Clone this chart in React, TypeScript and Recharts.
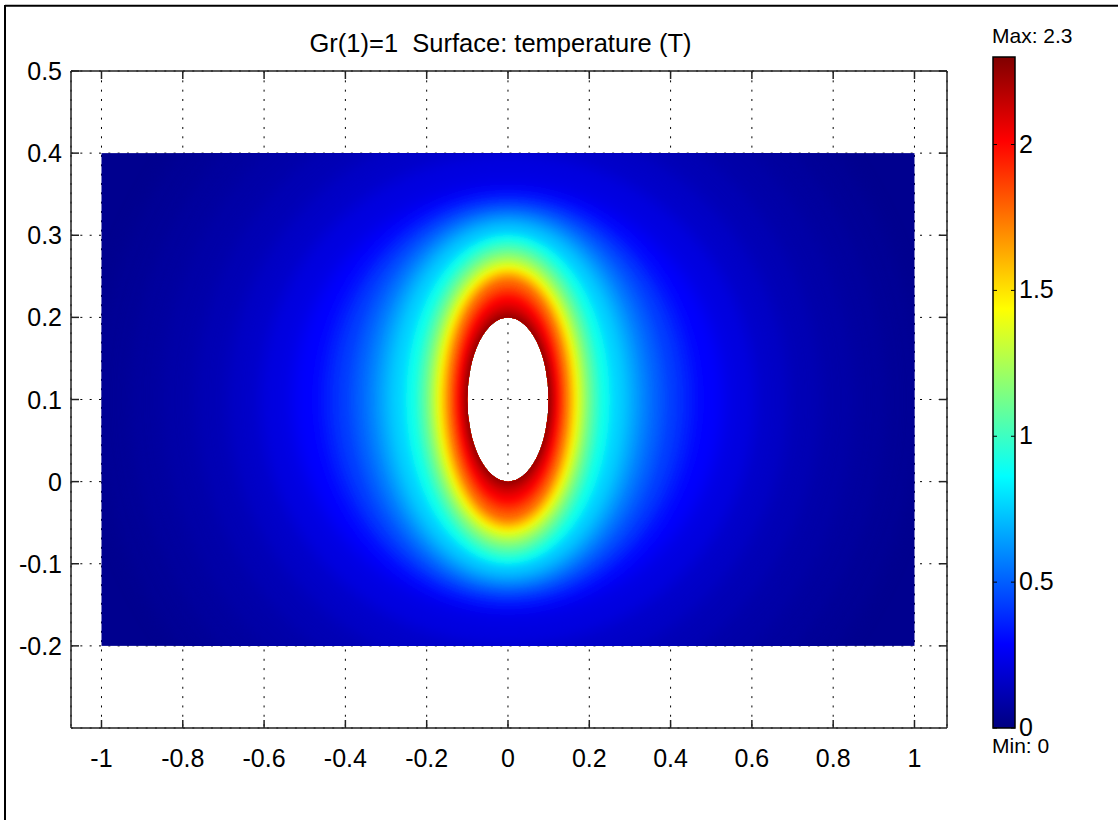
import { ComposedChart, XAxis, YAxis, CartesianGrid, ReferenceArea, Scatter } from "recharts";

// axes of the surface plot
const xTicks = [-1, -0.8, -0.6, -0.4, -0.2, 0, 0.2, 0.4, 0.6, 0.8, 1];
const yTicks = [-0.2, -0.1, 0, 0.1, 0.2, 0.3, 0.4, 0.5];
const xDomain = [-1.075, 1.08];
const yDomain = [-0.3, 0.5];

// geometry of the computed domain
const fieldX = [-1, 1];
const fieldY = [-0.2, 0.4];
const hole = { cx: 0, cy: 0.1, rx: 0.1, ry: 0.1 };

// temperature contours (half width / half height around the hole centre)
const contourT = [2.3, 2.2, 2.1, 2.0, 1.9, 1.8, 1.7, 1.6, 1.5, 1.4, 1.3, 1.2, 1.1, 1.0, 0.9, 0.8, 0.7, 0.6, 0.5, 0.4, 0.3, 0.22, 0.16, 0.12, 0.09, 0.07, 0.05];
const contourRx = [0.1, 0.107, 0.115, 0.124, 0.133, 0.142, 0.15, 0.158, 0.166, 0.174, 0.184, 0.195, 0.208, 0.225, 0.25, 0.28, 0.31, 0.345, 0.39, 0.45, 0.53, 0.61, 0.69, 0.77, 0.85, 0.93, 1.01];
const contourRy = [0.1, 0.108, 0.117, 0.127, 0.136, 0.145, 0.15, 0.155, 0.159, 0.164, 0.17, 0.177, 0.184, 0.192, 0.2, 0.208, 0.216, 0.225, 0.235, 0.246, 0.26, 0.3, 0.34, 0.38, 0.42, 0.46, 0.5];
const backgroundT = 0.035;

// colour bar
const tMin = 0;
const tMax = 2.3;
const colorbarTicks = [0, 0.5, 1, 1.5, 2];
const jetStops = [
  { at: 0, color: "#000080" },
  { at: 0.125, color: "#0000ff" },
  { at: 0.375, color: "#00ffff" },
  { at: 0.625, color: "#ffff00" },
  { at: 0.875, color: "#ff0000" },
  { at: 1, color: "#800000" },
];

const FONT = "'Liberation Sans', Arial, sans-serif";
const AXIS = { stroke: "#222", strokeWidth: 1.5 };

const rgb = (h: string) => [1, 3, 5].map((i) => parseInt(h.slice(i, i + 2), 16));

const jet = (T: number) => {
  const t = Math.min(1, Math.max(0, (T - tMin) / (tMax - tMin)));
  let i = 0;
  while (i < jetStops.length - 2 && t > jetStops[i + 1].at) i++;
  const a = jetStops[i];
  const b = jetStops[i + 1];
  const f = (t - a.at) / (b.at - a.at);
  const ca = rgb(a.color);
  const cb = rgb(b.color);
  const c = ca.map((v, k) => Math.round(v + (cb[k] - v) * f));
  return `rgb(${c[0]},${c[1]},${c[2]})`;
};

const FieldShape = (props: any) => {
  const { x, y, width, height } = props;
  return (
    <g>
      <defs>
        <clipPath id="fieldClip">
          <rect x={x} y={y} width={width} height={height} />
        </clipPath>
        <filter id="soften" x="-20%" y="-20%" width="140%" height="140%">
          <feGaussianBlur stdDeviation={3} />
        </filter>
        <filter id="softenWide" x="-30%" y="-30%" width="160%" height="160%">
          <feGaussianBlur stdDeviation={9} />
        </filter>
      </defs>
      <rect x={x} y={y} width={width} height={height} fill={jet(backgroundT)} mask="url(#holeMask)" />
    </g>
  );
};

const contourShape = (color: string, wide: boolean) => (props: any) => {
  const { x, y, width, height } = props;
  return (
    <ellipse
      cx={x + width / 2}
      cy={y + height / 2}
      rx={Math.abs(width) / 2}
      ry={Math.abs(height) / 2}
      fill={color}
      filter={wide ? "url(#softenWide)" : "url(#soften)"}
      clipPath="url(#fieldClip)"
      mask="url(#holeMask)"
    />
  );
};

const HoleShape = (props: any) => {
  const { x, y, width, height } = props;
  return (
    <defs>
      <mask id="holeMask" maskUnits="userSpaceOnUse" x={0} y={0} width={1118} height={820}>
        <rect x={0} y={0} width={1118} height={820} fill="#fff" />
        <ellipse cx={x + width / 2} cy={y + height / 2} rx={width / 2} ry={height / 2} fill="#000" />
      </mask>
    </defs>
  );
};

const BottomTick = ({ x, y, payload }: any) => (
  <g>
    <line x1={x} x2={x} y1={y} y2={y - 8} {...AXIS} />
    <text x={x} y={y + 39} textAnchor="middle" fontSize={25} fill="#000" fontFamily={FONT}>
      {payload.value}
    </text>
  </g>
);
const TopTick = ({ x, y }: any) => <line x1={x} x2={x} y1={y} y2={y + 8} {...AXIS} />;
const LeftTick = ({ x, y, payload }: any) => (
  <g>
    <line x1={x} x2={x + 8} y1={y} y2={y} {...AXIS} />
    <text x={x - 9} y={y + 9} textAnchor="end" fontSize={25} fill="#000" fontFamily={FONT}>
      {payload.value}
    </text>
  </g>
);
const RightTick = ({ x, y }: any) => <line x1={x} x2={x - 8} y1={y} y2={y} {...AXIS} />;

const ColorbarShape = (props: any) => {
  const { x, y, width, height } = props;
  return (
    <g>
      <defs>
        <linearGradient id="jetBar" x1="0" y1="1" x2="0" y2="0">
          {jetStops.map((s) => (
            <stop key={s.at} offset={`${s.at * 100}%`} stopColor={s.color} />
          ))}
        </linearGradient>
      </defs>
      <rect x={x} y={y} width={width} height={height} fill="url(#jetBar)" stroke="#000" strokeWidth={1.5} />
      <text x={x - 1} y={y - 14} fontSize={21} fill="#000" fontFamily={FONT}>
        {`Max: ${tMax}`}
      </text>
      <text x={x - 1} y={y + height + 25} fontSize={21} fill="#000" fontFamily={FONT}>
        {`Min: ${tMin}`}
      </text>
    </g>
  );
};

const ColorbarTick = ({ x, y, payload }: any) => (
  <g>
    <line x1={x - 22} x2={x - 18} y1={y} y2={y} stroke="#000" />
    <line x1={x - 4} x2={x} y1={y} y2={y} stroke="#000" />
    <text x={x + 4} y={y + 8} fontSize={25} fill="#000" fontFamily={FONT}>
      {payload.value}
    </text>
  </g>
);

const contours = contourT.map((T, i) => ({ T, rx: contourRx[i], ry: contourRy[i] })).reverse();
const holeCentre = [{ cx: hole.cx, cy: hole.cy }];
const barPoints = colorbarTicks.map((T) => ({ pos: 0.5, T }));

const noDot = () => <g />;

export default function App() {
  return (
    <div style={{ position: "relative", width: 1118, height: 820, overflow: "hidden", background: "#fff", fontFamily: FONT }}>
      <style>{"body{margin:0}"}</style>
      <ComposedChart width={1118} height={820} margin={{ top: 70, right: 170, bottom: 0, left: 0 }}>
        <CartesianGrid stroke="#000" strokeDasharray="2 7.33" />
        <XAxis dataKey="cx" type="number" domain={xDomain} ticks={xTicks} allowDataOverflow interval={0} height={92} tickSize={0} tickMargin={0} tickLine={false} axisLine={AXIS} tick={BottomTick} />
        <XAxis xAxisId="top" dataKey="cx" orientation="top" type="number" domain={xDomain} ticks={xTicks} allowDataOverflow interval={0} height={1} tickSize={0} tickMargin={0} tickLine={false} axisLine={AXIS} tick={TopTick} />
        <YAxis dataKey="cy" type="number" domain={yDomain} ticks={yTicks} allowDataOverflow interval={0} width={71} tickSize={0} tickMargin={0} tickLine={false} axisLine={AXIS} tick={LeftTick} />
        <YAxis yAxisId="right" dataKey="cy" orientation="right" type="number" domain={yDomain} ticks={yTicks} allowDataOverflow interval={0} width={1} tickSize={0} tickMargin={0} tickLine={false} axisLine={AXIS} tick={RightTick} />
        <ReferenceArea x1={hole.cx - hole.rx} x2={hole.cx + hole.rx} y1={hole.cy - hole.ry} y2={hole.cy + hole.ry} ifOverflow="visible" shape={HoleShape} />
        <ReferenceArea x1={fieldX[0]} x2={fieldX[1]} y1={fieldY[0]} y2={fieldY[1]} ifOverflow="visible" shape={FieldShape} />
        {contours.map((c) => (
          <ReferenceArea
            key={c.T}
            x1={hole.cx - c.rx}
            x2={hole.cx + c.rx}
            y1={hole.cy - c.ry}
            y2={hole.cy + c.ry}
            ifOverflow="visible"
            shape={contourShape(jet(c.T), c.T < 0.85)}
          />
        ))}
        <Scatter data={holeCentre} dataKey="cy" shape={noDot} isAnimationActive={false} />
        <Scatter data={holeCentre} dataKey="cy" xAxisId="top" yAxisId="right" shape={noDot} isAnimationActive={false} />
      </ComposedChart>
      <div style={{ position: "absolute", left: 960, top: 20 }}>
        <ComposedChart width={158} height={740} margin={{ top: 37, right: 0, bottom: 32, left: 33 }}>
          <XAxis dataKey="pos" type="number" domain={[0, 1]} hide />
          <YAxis dataKey="T" orientation="right" type="number" domain={[tMin, tMax]} ticks={colorbarTicks} allowDataOverflow interval={0} width={103} tickSize={0} tickMargin={0} tickLine={false} axisLine={false} tick={ColorbarTick} />
          <ReferenceArea x1={0} x2={1} y1={tMin} y2={tMax} ifOverflow="visible" shape={ColorbarShape} />
          <Scatter data={barPoints} dataKey="T" shape={noDot} isAnimationActive={false} />
        </ComposedChart>
      </div>
      <svg width={1118} height={820} style={{ position: "absolute", left: 0, top: 0, pointerEvents: "none" }}>
        <line x1={5} y1={5.7} x2={1118} y2={5.7} stroke="#000" strokeWidth={2} />
        <line x1={5} y1={5} x2={5} y2={820} stroke="#000" strokeWidth={2} />
        <text x={500.5} y={52} textAnchor="middle" fontSize={25.5} fill="#000" fontFamily={FONT} style={{ whiteSpace: "pre" }}>
          {"Gr(1)=1  Surface: temperature (T)"}
        </text>
      </svg>
    </div>
  );
}
